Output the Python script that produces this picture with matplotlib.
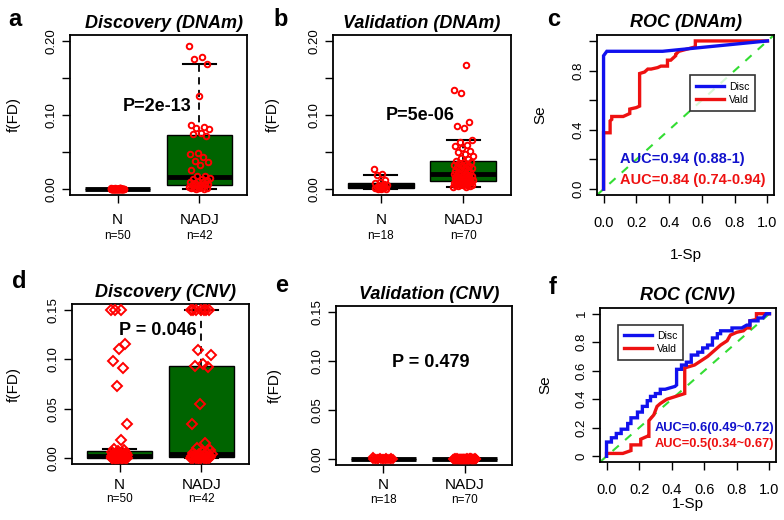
import numpy as np
import matplotlib.pyplot as plt
from matplotlib import transforms

plt.rcParams['font.family'] = ['Liberation Sans', 'DejaVu Sans']

groups = ['N', 'NADJ']

# a: Discovery (DNAm)
dnam_disc_n = [0.001, 0.0, 0.0, 0.0005, 0.0, 0.0, 0.001, 0.0, 0.0, 0.0,
               0.0, 0.0005, 0.0, 0.0, 0.0, 0.001, 0.0, 0.0, 0.0, 0.0,
               0.0, 0.0, 0.0005, 0.0, 0.0, 0.0, 0.0, 0.001, 0.0, 0.0,
               0.0, 0.0, 0.0, 0.0, 0.0005, 0.0, 0.0, 0.0, 0.0, 0.0,
               0.001, 0.0, 0.0, 0.0, 0.0, 0.0, 0.0005, 0.0, 0.0, 0.0]
dnam_disc_nadj = [0.193, 0.178, 0.176, 0.169, 0.125, 0.086, 0.084, 0.083, 0.081, 0.076,
                  0.074, 0.072, 0.049, 0.047, 0.043, 0.038, 0.036, 0.033, 0.026, 0.018,
                  0.017, 0.015, 0.014, 0.013, 0.012, 0.011, 0.010, 0.009, 0.008, 0.007,
                  0.006, 0.005, 0.005, 0.004, 0.003, 0.003, 0.002, 0.002, 0.001, 0.001,
                  0.0, 0.0]

# b: Validation (DNAm)
dnam_vald_n = [0.027, 0.021, 0.019, 0.012, 0.009, 0.008, 0.007, 0.006, 0.005,
               0.004, 0.003, 0.003, 0.002, 0.001, 0.001, 0.0, 0.0, 0.0]
dnam_vald_nadj = [0.003, 0.003, 0.004, 0.004, 0.005, 0.005, 0.005, 0.006, 0.006, 0.007,
                  0.007, 0.008, 0.008, 0.008, 0.009, 0.009, 0.010, 0.010, 0.011, 0.011,
                  0.012, 0.012, 0.013, 0.013, 0.014, 0.014, 0.015, 0.016, 0.016, 0.017,
                  0.018, 0.018, 0.019, 0.020, 0.021, 0.021, 0.022, 0.023, 0.024, 0.025,
                  0.026, 0.027, 0.028, 0.029, 0.030, 0.031, 0.032, 0.033, 0.034, 0.035,
                  0.036, 0.037, 0.038, 0.040, 0.042, 0.045, 0.047, 0.050, 0.052, 0.055,
                  0.058, 0.060, 0.063, 0.066, 0.082, 0.085, 0.091, 0.130, 0.134, 0.168]

# d: Discovery (CNV)
cnv_disc_n = [0.15, 0.15, 0.15, 0.115, 0.11, 0.098, 0.091, 0.073, 0.034, 0.018,
              0.009, 0.008, 0.007, 0.006, 0.006, 0.005, 0.005, 0.004, 0.004, 0.004,
              0.003, 0.003, 0.003, 0.002, 0.002, 0.002, 0.002, 0.001, 0.001, 0.001,
              0.001, 0.001, 0.001, 0.001, 0.0, 0.0, 0.0, 0.0, 0.0, 0.0,
              0.0, 0.0, 0.0, 0.0, 0.0, 0.0, 0.0, 0.0, 0.0, 0.0]
cnv_disc_nadj = [0.15, 0.15, 0.15, 0.15, 0.15, 0.15, 0.15, 0.109, 0.104, 0.095,
                 0.093, 0.092, 0.055, 0.034, 0.015, 0.010, 0.008, 0.006, 0.005, 0.005,
                 0.004, 0.004, 0.003, 0.003, 0.003, 0.002, 0.002, 0.002, 0.002, 0.001,
                 0.001, 0.001, 0.0, 0.0, 0.0, 0.0, 0.0, 0.0, 0.0, 0.0,
                 0.0, 0.0]

# e: Validation (CNV)
cnv_vald_n = [0.002, 0.001, 0.0, 0.001, 0.0, 0.0, 0.0, 0.001, 0.0,
              0.0, 0.0, 0.0, 0.0005, 0.0, 0.0, 0.0, 0.0, 0.0]
cnv_vald_nadj = [0.0, 0.001, 0.0, 0.0, 0.0, 0.0005, 0.0, 0.0, 0.001, 0.0,
                 0.0, 0.0, 0.0, 0.0005, 0.0, 0.0, 0.0, 0.0, 0.0, 0.001,
                 0.0, 0.0, 0.0005, 0.0, 0.0, 0.0, 0.001, 0.0, 0.0, 0.0,
                 0.0, 0.0, 0.0, 0.0, 0.0005, 0.0, 0.0, 0.0, 0.0, 0.0,
                 0.001, 0.0, 0.0, 0.0, 0.0, 0.0, 0.0005, 0.0, 0.0, 0.0,
                 0.0, 0.0, 0.0, 0.001, 0.0, 0.0, 0.0, 0.0, 0.0005, 0.0,
                 0.0, 0.0, 0.0, 0.0, 0.0, 0.001, 0.0, 0.0, 0.0, 0.0]

# c: ROC (DNAm)
roc_dnam_disc_x = [0, 0, 0.02, 0.36, 1.0]
roc_dnam_disc_y = [0, 0.9, 0.93, 0.93, 1.0]
roc_dnam_vald_x = [0, 0, 0.04, 0.04, 0.05, 0.05, 0.12, 0.16, 0.16, 0.2, 0.22, 0.22, 0.25,
                   0.27, 0.29, 0.33, 0.35, 0.39, 0.39, 0.41, 0.44, 0.44, 0.46, 0.56, 0.56, 1.0]
roc_dnam_vald_y = [0, 0.38, 0.38, 0.46, 0.47, 0.49, 0.49, 0.51, 0.54, 0.55, 0.56, 0.78, 0.79,
                   0.81, 0.81, 0.82, 0.83, 0.83, 0.87, 0.87, 0.9, 0.91, 0.93, 0.96, 1.0, 1.0]

# f: ROC (CNV)
roc_cnv_disc_x = [0, 0, 0.03, 0.03, 0.06, 0.06, 0.09, 0.09, 0.13, 0.13, 0.15, 0.15, 0.19, 0.19,
                  0.22, 0.22, 0.25, 0.25, 0.27, 0.27, 0.3, 0.3, 0.33, 0.33, 0.36, 0.42, 0.43, 0.43,
                  0.46, 0.46, 0.49, 0.49, 0.52, 0.52, 0.56, 0.56, 0.59, 0.59, 0.62, 0.62, 0.65, 0.65,
                  0.68, 0.68, 0.7, 0.7, 0.77, 0.77, 0.83, 0.86, 0.88, 0.88, 0.93, 0.93, 0.96, 0.98, 1.0]
roc_cnv_disc_y = [0, 0.1, 0.1, 0.13, 0.13, 0.16, 0.16, 0.19, 0.19, 0.23, 0.23, 0.27, 0.27, 0.31,
                  0.31, 0.35, 0.35, 0.39, 0.39, 0.42, 0.42, 0.44, 0.44, 0.47, 0.47, 0.49, 0.5, 0.61,
                  0.61, 0.64, 0.64, 0.66, 0.66, 0.71, 0.71, 0.73, 0.73, 0.76, 0.76, 0.78, 0.78, 0.83,
                  0.83, 0.86, 0.86, 0.88, 0.88, 0.9, 0.9, 0.92, 0.92, 0.95, 0.95, 0.97, 0.97, 1.0, 1.0]
roc_cnv_vald_x = [0, 0, 0.1, 0.15, 0.15, 0.21, 0.21, 0.25, 0.26, 0.26, 0.29, 0.31, 0.33, 0.37,
                  0.48, 0.48, 0.54, 0.58, 0.62, 0.66, 0.7, 0.74, 0.76, 0.8, 0.84, 0.86, 0.88, 0.88,
                  0.92, 0.92, 0.97, 1.0]
roc_cnv_vald_y = [0, 0.02, 0.02, 0.04, 0.08, 0.08, 0.12, 0.14, 0.14, 0.25, 0.29, 0.35, 0.37, 0.4,
                  0.44, 0.62, 0.64, 0.67, 0.7, 0.74, 0.78, 0.81, 0.85, 0.87, 0.88, 0.9, 0.9, 0.95,
                  0.96, 1.0, 1.0, 1.0]

p_labels = ['P=2e-13', 'P=5e-06', 'P = 0.046', 'P = 0.479']
auc_dnam = ['AUC=0.94 (0.88-1)', 'AUC=0.84 (0.74-0.94)']
auc_cnv = ['AUC=0.6(0.49~0.72)', 'AUC=0.5(0.34~0.67)']

GREEN = '#006400'


def style_axes(ax):
    for s in ax.spines.values():
        s.set_linewidth(1.3)
    ax.tick_params(direction='out', length=6, width=1, colors='black')


def box_panel(ax, data, ns, title, ptext, pxy, ymax, yticks, ylabels, jit, marker, ms,
              nlab_y, ylab_x, title_x=0.5):
    ax.boxplot(data, positions=[1, 2], widths=0.8, patch_artist=True, showfliers=False,
               whis=1.5,
               boxprops=dict(facecolor=GREEN, edgecolor='black', linewidth=1),
               medianprops=dict(color='black', linewidth=3.5, solid_capstyle='butt'),
               whiskerprops=dict(color='black', linewidth=1.3, linestyle=(0, (4, 3))),
               capprops=dict(color='black', linewidth=1.5))
    for i, vals in enumerate(data):
        n = len(vals)
        off = ((np.arange(n) * 0.618034) % 1 - 0.5) * 2 * jit[i]
        ax.plot(i + 1 + off, vals, linestyle='none', marker=marker, ms=ms, mfc='none',
                mec='red', mew=1.4, zorder=5)
    ax.set_xlim(0.42, 2.58)
    ax.set_ylim(-0.04 * ymax, 1.04 * ymax)
    ax.set_xticks([1, 2])
    ax.set_xticklabels([])
    ax.set_yticks(yticks)
    ax.set_yticklabels(ylabels, rotation=90, va='center', fontsize=9.5)
    style_axes(ax)
    ax.tick_params(axis='y', pad=3)
    tr = transforms.blended_transform_factory(ax.transData, ax.transAxes)
    for i, g in enumerate(groups):
        ax.text(i + 1, nlab_y[0], g, transform=tr, ha='center', va='center', fontsize=11)
        ax.text(i + 1, nlab_y[1], 'n=%d' % ns[i], transform=tr, ha='center', va='center',
                fontsize=8.5)
    ax.text(pxy[0], pxy[1], ptext, ha='center', va='center', fontsize=13, fontweight='bold',
            zorder=6)
    ax.set_title(title, fontsize=13, fontweight='bold', style='italic', pad=5, x=title_x)
    ax.set_ylabel('f(FD)', fontsize=11)
    ax.yaxis.set_label_coords(ylab_x, 0.5)


def roc_panel(ax, dx, dy, vx, vy, title, auc, auc_pos, auc_ha, auc_size, leg_anchor,
              ylabels, xlab_y, ylab_x):
    ax.axline((0, 0), (1, 1), color='#33dd33', lw=1.5, linestyle=(0, (4, 4)), zorder=1)
    ax.plot(vx, vy, color='#ee1111', lw=2.4, label='Vald', zorder=3,
            solid_joinstyle='miter')
    ax.plot(dx, dy, color='#1111ee', lw=2.4, label='Disc', zorder=4,
            solid_joinstyle='miter')
    ax.set_xlim(-0.04, 1.04)
    ax.set_ylim(-0.04, 1.04)
    ticks = [0, 0.2, 0.4, 0.6, 0.8, 1.0]
    ax.set_xticks(ticks)
    ax.set_xticklabels(['0.0', '0.2', '0.4', '0.6', '0.8', '1.0'], fontsize=10.5)
    ax.set_yticks(ticks)
    ax.set_yticklabels(ylabels, rotation=90, va='center', fontsize=9.5)
    style_axes(ax)
    ax.tick_params(axis='x', pad=9)
    ax.tick_params(axis='y', pad=3)
    h, l = ax.get_legend_handles_labels()
    leg = ax.legend(h[::-1], l[::-1], loc='upper left', bbox_to_anchor=leg_anchor,
                    fontsize=7.5, frameon=True, fancybox=False, handlelength=2.6,
                    borderpad=0.6, labelspacing=0.3, handletextpad=0.5)
    leg.get_frame().set_edgecolor('black')
    leg.get_frame().set_linewidth(1.2)
    ax.text(auc_pos[0], auc_pos[1], auc[0], color='#1111cc', fontweight='bold',
            fontsize=auc_size, ha=auc_ha, va='center')
    ax.text(auc_pos[0], auc_pos[2], auc[1], color='#ee1111', fontweight='bold',
            fontsize=auc_size, ha=auc_ha, va='center')
    ax.set_title(title, fontsize=13, fontweight='bold', style='italic', pad=6)
    ax.set_xlabel('1-Sp', fontsize=11)
    ax.xaxis.set_label_coords(0.5, xlab_y)
    ax.set_ylabel('Se', fontsize=11)
    ax.yaxis.set_label_coords(ylab_x, 0.5)


fig = plt.figure(figsize=(7.84, 5.2), dpi=100)
W, H = 784.0, 520.0

ax_a = fig.add_axes([70 / W, 1 - 195 / H, 177 / W, 160 / H])
ax_b = fig.add_axes([333 / W, 1 - 195 / H, 178 / W, 160 / H])
ax_c = fig.add_axes([597 / W, 1 - 195 / H, 177 / W, 160 / H])
ax_d = fig.add_axes([72 / W, 1 - 464 / H, 177 / W, 160 / H])
ax_e = fig.add_axes([336 / W, 1 - 465 / H, 176 / W, 159 / H])
ax_f = fig.add_axes([600 / W, 1 - 462 / H, 176 / W, 154 / H])

dnam_ticks = [0, 0.05, 0.10, 0.15, 0.20]
dnam_tlabels = ['0.00', '', '0.10', '', '0.20']
cnv_ticks = [0, 0.05, 0.10, 0.15]
cnv_tlabels = ['0.00', '0.05', '0.10', '0.15']

box_panel(ax_a, [dnam_disc_n, dnam_disc_nadj], [50, 42], 'Discovery (DNAm)', p_labels[0],
          (1.48, 0.112), 0.2, dnam_ticks, dnam_tlabels, [0.08, 0.13], 'o', 4,
          (-0.155, -0.255), -0.28, title_x=0.53)
box_panel(ax_b, [dnam_vald_n, dnam_vald_nadj], [18, 70], 'Validation (DNAm)', p_labels[1],
          (1.48, 0.1), 0.2, dnam_ticks, dnam_tlabels, [0.08, 0.12], 'o', 4,
          (-0.155, -0.255), -0.3)
box_panel(ax_d, [cnv_disc_n, cnv_disc_nadj], [50, 42], 'Discovery (CNV)', p_labels[2],
          (1.47, 0.129), 0.15, cnv_ticks, cnv_tlabels, [0.1, 0.13], 'D', 5,
          (-0.13, -0.22), -0.29, title_x=0.53)
box_panel(ax_e, [cnv_vald_n, cnv_vald_nadj], [18, 70], 'Validation (CNV)', p_labels[3],
          (1.58, 0.098), 0.15, cnv_ticks, cnv_tlabels, [0.13, 0.14], 'D', 4,
          (-0.125, -0.22), -0.31, title_x=0.53)

roc_panel(ax_c, roc_dnam_disc_x, roc_dnam_disc_y, roc_dnam_vald_x, roc_dnam_vald_y,
          'ROC (DNAm)', auc_dnam, (0.1, 0.2, 0.06), 'left', 10.5, (0.497, 0.78),
          ['0.0', '', '0.4', '', '0.8', ''], -0.33, -0.28)
roc_panel(ax_f, roc_cnv_disc_x, roc_cnv_disc_y, roc_cnv_vald_x, roc_cnv_vald_y,
          'ROC (CNV)', auc_cnv, (1.03, 0.2, 0.085), 'right', 9.3, (0.074, 0.925),
          ['0', '0.2', '0.4', '0.6', '0.8', '1'], -0.23, -0.27)

letters = [('a', 8, 19), ('b', 273, 19), ('c', 547, 19),
           ('d', 12, 281), ('e', 275, 285), ('f', 549, 288)]
for t, x, y in letters:
    fig.text(x / W, 1 - y / H, t, fontsize=17, fontweight='bold', ha='left', va='center')

fig.savefig('out.png', dpi=100)
